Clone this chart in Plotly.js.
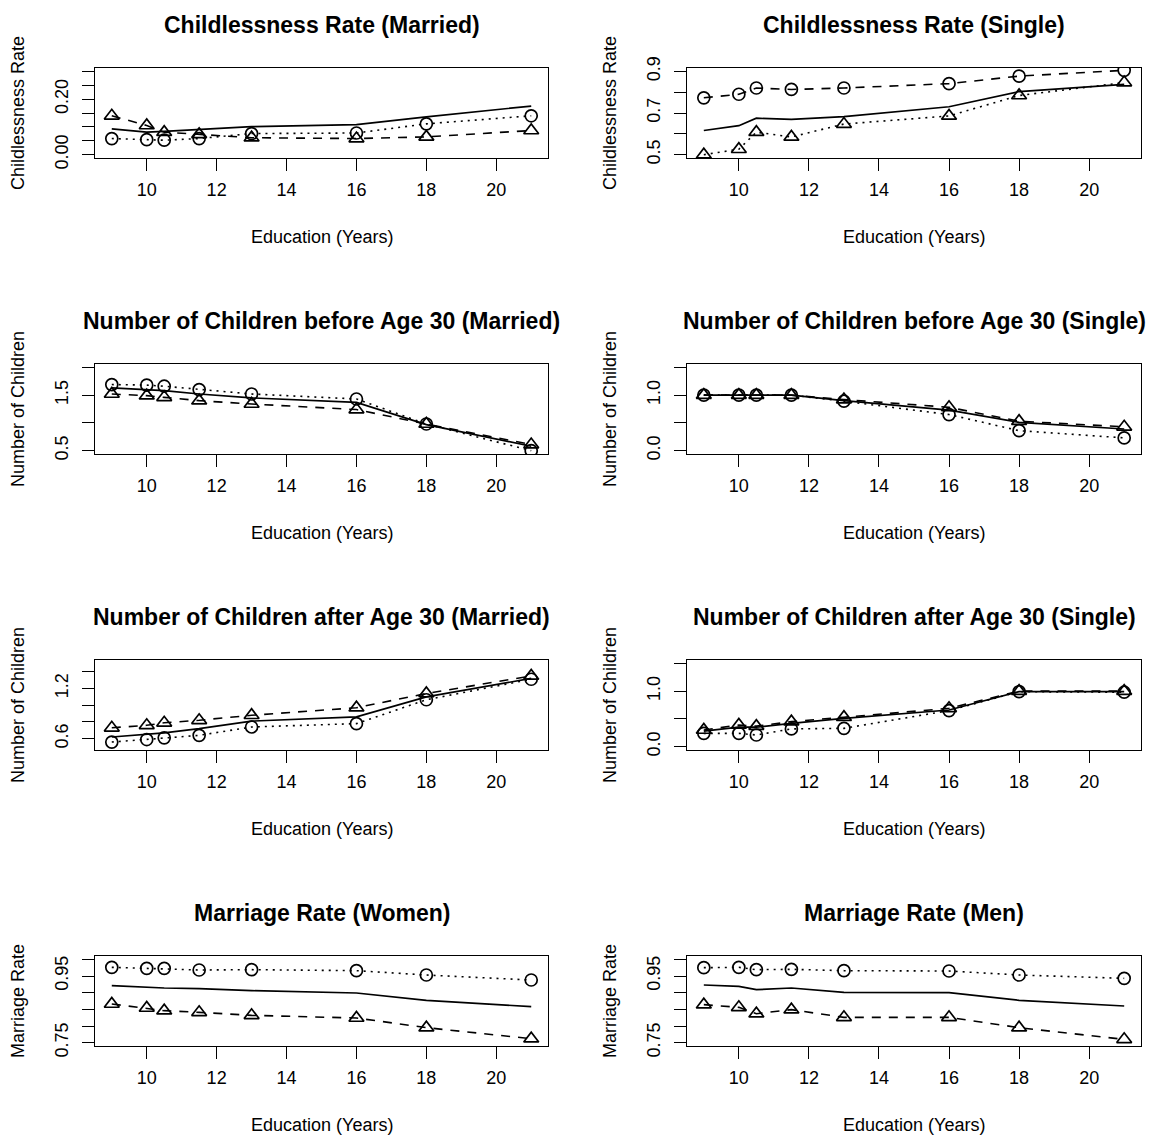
<!DOCTYPE html>
<html>
<head>
<meta charset="utf-8">
<script src="https://cdn.plot.ly/plotly-3.0.1.min.js"></script>
<style>html,body{margin:0;padding:0;background:#fff;}#chart{width:1154px;height:1137px;}</style>
</head>
<body>
<div id="chart"></div>
<script>
// ---- data ----
const educ = [9, 10, 10.5, 11.5, 13, 16, 18, 21];
const xTicks = [10, 12, 14, 16, 18, 20];

const panelTitles = [
  "Childlessness Rate (Married)", "Childlessness Rate (Single)",
  "Number of Children before Age 30 (Married)", "Number of Children before Age 30 (Single)",
  "Number of Children after Age 30 (Married)", "Number of Children after Age 30 (Single)",
  "Marriage Rate (Women)", "Marriage Rate (Men)"
];
const yTitles = [
  "Childlessness Rate", "Childlessness Rate",
  "Number of Children", "Number of Children",
  "Number of Children", "Number of Children",
  "Marriage Rate", "Marriage Rate"
];
const xTitle = "Education (Years)";

// Childlessness rate, married
const cmSolid    = [0.093, 0.081, 0.084, 0.090, 0.101, 0.108, 0.136, 0.175];
const cmCircle   = [0.058, 0.054, 0.052, 0.058, 0.076, 0.078, 0.111, 0.140];
const cmTriangle = [0.140, 0.105, 0.081, 0.073, 0.061, 0.058, 0.064, 0.087];
// Childlessness rate, single
const csSolid    = [0.616, 0.639, 0.675, 0.669, 0.683, 0.730, 0.803, 0.837];
const csCircle   = [0.773, 0.790, 0.820, 0.813, 0.820, 0.841, 0.877, 0.905];
const csTriangle = [0.500, 0.526, 0.608, 0.585, 0.647, 0.686, 0.784, 0.846];
// Children before 30, married
const bmSolid    = [1.63, 1.60, 1.58, 1.52, 1.45, 1.37, 0.97, 0.58];
const bmCircle   = [1.69, 1.68, 1.66, 1.60, 1.52, 1.43, 0.98, 0.50];
const bmTriangle = [1.52, 1.49, 1.46, 1.40, 1.34, 1.24, 0.98, 0.61];
// Children before 30, single
const bsSolid    = [1.00, 1.00, 1.00, 1.00, 0.90, 0.73, 0.51, 0.39];
const bsCircle   = [1.00, 1.00, 1.00, 1.00, 0.89, 0.65, 0.36, 0.23];
const bsTriangle = [1.00, 1.00, 1.00, 1.00, 0.92, 0.78, 0.53, 0.43];
// Children after 30, married
const amSolid    = [0.62, 0.65, 0.67, 0.72, 0.81, 0.86, 1.10, 1.32];
const amCircle   = [0.56, 0.59, 0.61, 0.64, 0.74, 0.78, 1.065, 1.31];
const amTriangle = [0.73, 0.76, 0.79, 0.82, 0.88, 0.97, 1.14, 1.35];
// Children after 30, single
const asSolid    = [0.28, 0.35, 0.35, 0.42, 0.51, 0.66, 0.99, 0.99];
const asCircle   = [0.24, 0.24, 0.21, 0.32, 0.33, 0.65, 0.99, 0.98];
const asTriangle = [0.30, 0.39, 0.37, 0.45, 0.53, 0.69, 1.00, 1.00];
// Marriage rate, women
const mwSolid    = [0.921, 0.916, 0.914, 0.912, 0.906, 0.899, 0.877, 0.858];
const mwCircle   = [0.976, 0.973, 0.973, 0.968, 0.969, 0.966, 0.953, 0.938];
const mwTriangle = [0.866, 0.854, 0.846, 0.841, 0.832, 0.824, 0.795, 0.762];
// Marriage rate, men
const mmSolid    = [0.923, 0.919, 0.909, 0.914, 0.901, 0.900, 0.877, 0.860];
const mmCircle   = [0.975, 0.976, 0.969, 0.970, 0.966, 0.965, 0.953, 0.943];
const mmTriangle = [0.864, 0.856, 0.837, 0.849, 0.826, 0.826, 0.795, 0.760];

// y tick values and labels per panel
const yTickVals = [
  [0, 0.05, 0.10, 0.15, 0.20, 0.25, 0.30],
  [0.5, 0.6, 0.7, 0.8, 0.9],
  [0.5, 1.0, 1.5, 2.0],
  [0.0, 0.5, 1.0, 1.5],
  [0.6, 0.8, 1.0, 1.2, 1.4],
  [0.0, 0.5, 1.0, 1.5],
  [0.75, 0.80, 0.85, 0.90, 0.95, 1.00],
  [0.75, 0.80, 0.85, 0.90, 0.95, 1.00]
];
const yTickText = [
  ["0.00", "", "", "", "0.20", "", ""],
  ["0.5", "", "0.7", "", "0.9"],
  ["0.5", "", "1.5", ""],
  ["0.0", "", "1.0", ""],
  ["0.6", "", "", "1.2", ""],
  ["0.0", "", "1.0", ""],
  ["0.75", "", "", "", "0.95", ""],
  ["0.75", "", "", "", "0.95", ""]
];

// ---- layout / styling ----
const W = 1154, H = 1137;
const FONT = "Liberation Sans, Arial, Helvetica, sans-serif";
const colLeft = [[95, 548], [687, 1141]];
const rowTop0 = 68, rowStep = 296, boxH = 90;
const yRanges = [[-0.012, 0.312], [0.484, 0.916], [0.44, 2.06], [-0.06, 1.56],
                 [0.465, 1.54], [-0.06, 1.56], [0.74, 1.01], [0.74, 1.01]];
const DOT = "2px,5px", DASH = "9px,8px";
const panels = [
  [cmSolid, cmCircle, DOT, cmTriangle, DASH],
  [csSolid, csCircle, DASH, csTriangle, DOT],
  [bmSolid, bmCircle, DOT, bmTriangle, DASH],
  [bsSolid, bsCircle, DOT, bsTriangle, DASH],
  [amSolid, amCircle, DOT, amTriangle, DASH],
  [asSolid, asCircle, DOT, asTriangle, DASH],
  [mwSolid, mwCircle, DOT, mwTriangle, DASH],
  [mmSolid, mmCircle, DOT, mmTriangle, DASH]
];

const data = [];
const layout = {
  width: W, height: H,
  margin: {l: 0, r: 0, t: 0, b: 0},
  paper_bgcolor: "#fff", plot_bgcolor: "#fff",
  showlegend: false,
  font: {family: FONT, size: 18, color: "#000"},
  annotations: []
};

panels.forEach((p, i) => {
  const row = Math.floor(i / 2), col = i % 2;
  const n = i + 1;
  const xa = "x" + (n === 1 ? "" : n), ya = "y" + (n === 1 ? "" : n);
  const top = rowTop0 + row * rowStep, bot = top + boxH;
  const [l, r] = colLeft[col];

  data.push({x: educ, y: p[0], xaxis: xa, yaxis: ya, type: "scatter", mode: "lines",
             line: {color: "#000", width: 1.7}, hoverinfo: "skip"});
  data.push({x: educ, y: p[1], xaxis: xa, yaxis: ya, type: "scatter", mode: "lines+markers",
             line: {color: "#000", width: 1.6, dash: p[2]},
             marker: {symbol: "circle-open", size: 12, color: "#000", line: {color: "#000", width: 1.7}},
             hoverinfo: "skip"});
  data.push({x: educ, y: p[3], xaxis: xa, yaxis: ya, type: "scatter", mode: "lines+markers",
             line: {color: "#000", width: 1.6, dash: p[4]},
             marker: {symbol: "triangle-up-open", size: 13, color: "#000", line: {color: "#000", width: 1.7}},
             hoverinfo: "skip"});

  const xKey = "xaxis" + (n === 1 ? "" : n), yKey = "yaxis" + (n === 1 ? "" : n);
  layout[xKey] = {
    domain: [l / W, r / W], anchor: ya, range: [8.52, 21.48],
    tickmode: "array", tickvals: xTicks, ticktext: xTicks.map(String),
    ticks: "outside", ticklen: 12, tickwidth: 1, tickcolor: "#000",
    showline: true, linecolor: "#000", linewidth: 1, mirror: true,
    showgrid: false, zeroline: false, tickfont: {size: 18, family: FONT},
    ticklabelstandoff: 3
  };
  layout[yKey] = {
    domain: [1 - bot / H, 1 - top / H], anchor: xa, range: yRanges[i],
    tickmode: "array", tickvals: yTickVals[i], ticktext: yTickText[i],
    ticks: "outside", ticklen: 12, tickwidth: 1, tickcolor: "#000",
    showline: true, linecolor: "#000", linewidth: 1, mirror: true,
    showgrid: false, zeroline: false, tickangle: -90, tickfont: {size: 18, family: FONT},
    ticklabelstandoff: 7
  };

  const cx = (l + r) / 2 / W;
  layout.annotations.push({text: "<b>" + panelTitles[i] + "</b>", xref: "paper", yref: "paper",
    x: cx, y: 1 - (top - 43) / H, xanchor: "center", yanchor: "middle", showarrow: false,
    font: {size: 23, family: FONT, color: "#000"}});
  layout.annotations.push({text: xTitle, xref: "paper", yref: "paper",
    x: cx, y: 1 - (bot + 79) / H, xanchor: "center", yanchor: "middle", showarrow: false,
    font: {size: 18, family: FONT, color: "#000"}});
  layout.annotations.push({text: yTitles[i], xref: "paper", yref: "paper", textangle: -90,
    x: (l - 77) / W, y: 1 - (top + bot) / 2 / H, xanchor: "center", yanchor: "middle", showarrow: false,
    font: {size: 18, family: FONT, color: "#000"}});
});

Plotly.newPlot("chart", data, layout, {staticPlot: true, displayModeBar: false});
</script>
</body>
</html>
